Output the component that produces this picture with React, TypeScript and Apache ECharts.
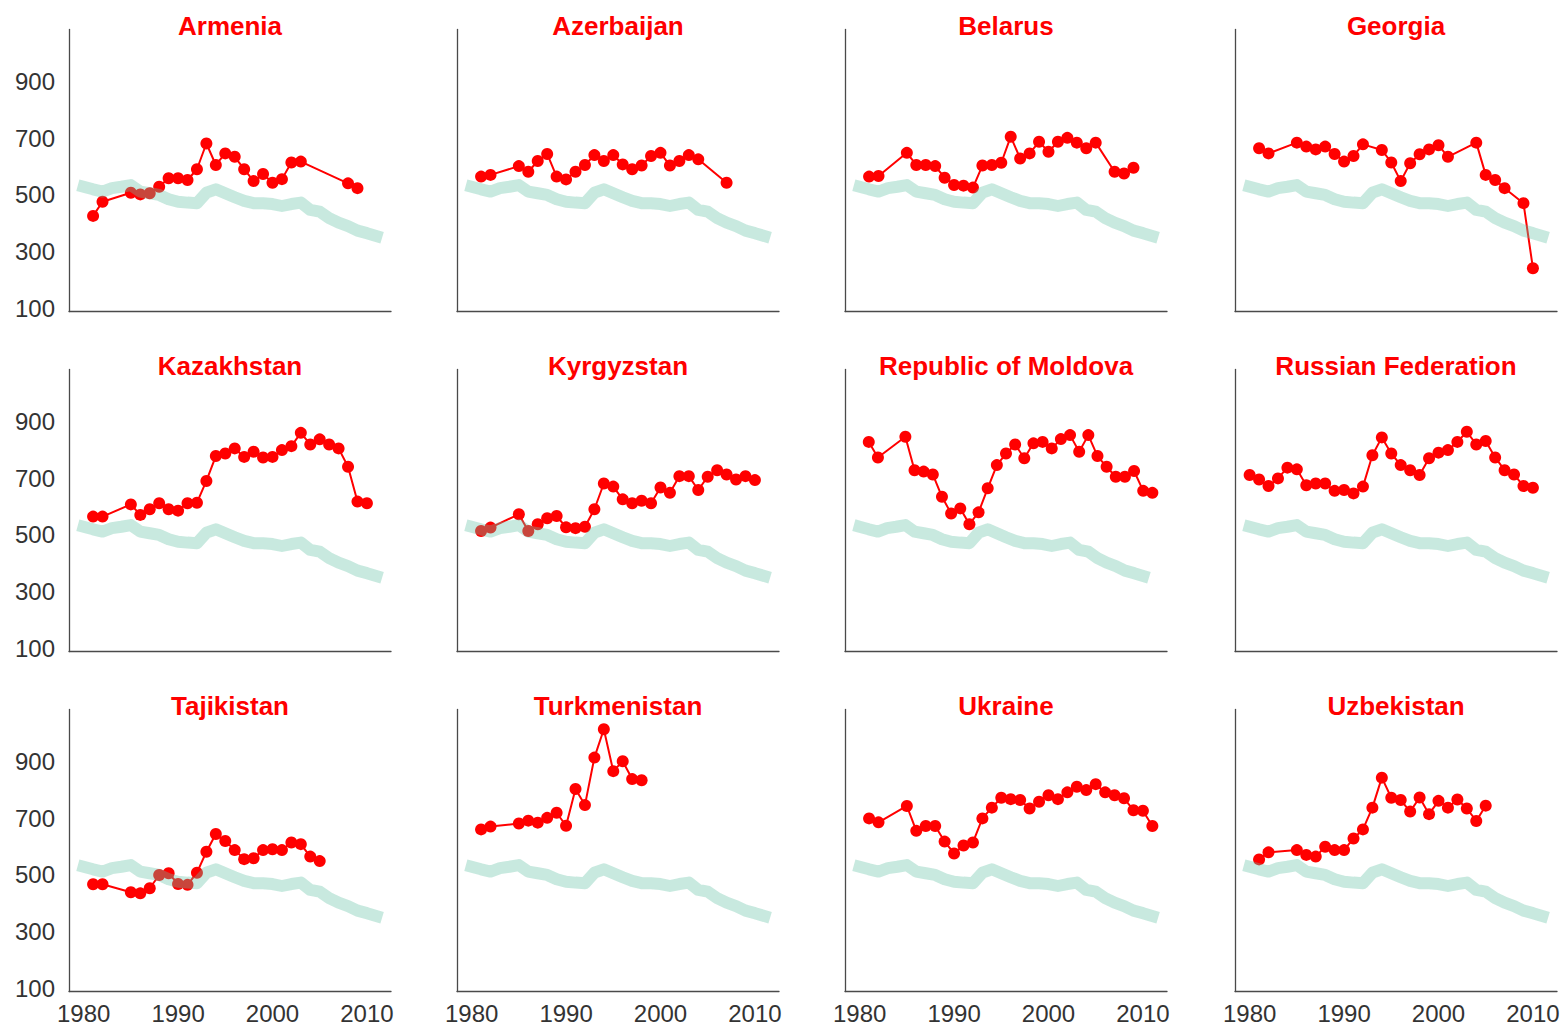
import React, { useEffect, useRef } from "react";
import * as echarts from "echarts";

const COUNTRIES = [
  "Armenia", "Azerbaijan", "Belarus", "Georgia",
  "Kazakhstan", "Kyrgyzstan", "Republic of Moldova", "Russian Federation",
  "Tajikistan", "Turkmenistan", "Ukraine", "Uzbekistan",
];

const GREEN_YEARS = [1980, 1981, 1982, 1983, 1984, 1985, 1986, 1987, 1988, 1989, 1990, 1991, 1992, 1993, 1994, 1995, 1996, 1997, 1998, 1999, 2000, 2001, 2002, 2003, 2004, 2005, 2006, 2007, 2008, 2009, 2010, 2011];
const GREEN_VALUES = [529, 520, 512, 524, 529, 535, 512, 506, 500, 485, 476, 473, 471, 508, 520, 506, 492, 479, 471, 471, 468, 461, 468, 473, 447, 441, 418, 402, 390, 374, 365, 355];

const ARMENIA_YEARS = [1981, 1982, 1985, 1986, 1987, 1988, 1989, 1990, 1991, 1992, 1993, 1994, 1995, 1996, 1997, 1998, 1999, 2000, 2001, 2002, 2003, 2008, 2009];
const ARMENIA = [426, 476, 508, 502, 506, 529, 559, 559, 553, 591, 682, 606, 647, 635, 591, 549, 574, 543, 556, 615, 618, 541, 524];

const AZERBAIJAN_YEARS = [1981, 1982, 1985, 1986, 1987, 1988, 1989, 1990, 1991, 1992, 1993, 1994, 1995, 1996, 1997, 1998, 1999, 2000, 2001, 2002, 2003, 2004, 2007];
const AZERBAIJAN = [565, 571, 602, 582, 620, 645, 565, 555, 582, 606, 641, 620, 641, 608, 591, 604, 638, 649, 604, 620, 641, 626, 543];

const BELARUS_YEARS = [1981, 1982, 1985, 1986, 1987, 1988, 1989, 1990, 1991, 1992, 1993, 1994, 1995, 1996, 1997, 1998, 1999, 2000, 2001, 2002, 2003, 2004, 2005, 2007, 2008, 2009];
const BELARUS = [565, 567, 649, 606, 606, 602, 561, 535, 533, 526, 604, 606, 614, 706, 629, 647, 688, 653, 688, 702, 685, 665, 685, 582, 576, 596];

const GEORGIA_YEARS = [1981, 1982, 1985, 1986, 1987, 1988, 1989, 1990, 1991, 1992, 1994, 1995, 1996, 1997, 1998, 1999, 2000, 2001, 2004, 2005, 2006, 2007, 2009, 2010];
const GEORGIA = [665, 647, 685, 671, 661, 671, 645, 618, 638, 679, 659, 615, 549, 612, 644, 661, 676, 635, 685, 571, 553, 524, 471, 241];

const KAZAKHSTAN_YEARS = [1981, 1982, 1985, 1986, 1987, 1988, 1989, 1990, 1991, 1992, 1993, 1994, 1995, 1996, 1997, 1998, 1999, 2000, 2001, 2002, 2003, 2004, 2005, 2006, 2007, 2008, 2009, 2010];
const KAZAKHSTAN = [565, 565, 608, 571, 591, 612, 591, 586, 612, 614, 691, 779, 788, 806, 776, 794, 774, 776, 800, 814, 861, 820, 838, 820, 806, 741, 618, 612];

const KYRGYZSTAN_YEARS = [1981, 1982, 1985, 1986, 1987, 1988, 1989, 1990, 1991, 1992, 1993, 1994, 1995, 1996, 1997, 1998, 1999, 2000, 2001, 2002, 2003, 2004, 2005, 2006, 2007, 2008, 2009, 2010];
const KYRGYZSTAN = [514, 526, 573, 514, 538, 559, 567, 527, 524, 529, 591, 682, 671, 626, 612, 621, 612, 668, 649, 708, 708, 659, 706, 729, 714, 696, 708, 694];

const MOLDOVA_YEARS = [1981, 1982, 1985, 1986, 1987, 1988, 1989, 1990, 1991, 1992, 1993, 1994, 1995, 1996, 1997, 1998, 1999, 2000, 2001, 2002, 2003, 2004, 2005, 2006, 2007, 2008, 2009, 2010, 2011, 2012];
const MOLDOVA = [829, 774, 847, 729, 724, 714, 635, 576, 594, 538, 580, 665, 747, 788, 820, 771, 824, 829, 806, 839, 853, 794, 853, 779, 741, 706, 706, 726, 656, 649];

const RUSSIA_YEARS = [1980, 1981, 1982, 1983, 1984, 1985, 1986, 1987, 1988, 1989, 1990, 1991, 1992, 1993, 1994, 1995, 1996, 1997, 1998, 1999, 2000, 2001, 2002, 2003, 2004, 2005, 2006, 2007, 2008, 2009, 2010];
const RUSSIA = [712, 696, 673, 700, 738, 732, 676, 682, 682, 656, 659, 647, 671, 782, 845, 788, 747, 729, 712, 771, 791, 800, 829, 865, 820, 832, 774, 729, 714, 673, 667];

const TAJIKISTAN_YEARS = [1981, 1982, 1985, 1986, 1987, 1988, 1989, 1990, 1991, 1992, 1993, 1994, 1995, 1996, 1997, 1998, 1999, 2000, 2001, 2002, 2003, 2004, 2005];
const TAJIKISTAN = [467, 467, 439, 435, 453, 500, 506, 468, 465, 508, 582, 645, 620, 588, 556, 559, 588, 591, 588, 615, 609, 565, 549];

const TURKMENISTAN_YEARS = [1981, 1982, 1985, 1986, 1987, 1988, 1989, 1990, 1991, 1992, 1993, 1994, 1995, 1996, 1997, 1998];
const TURKMENISTAN = [661, 671, 682, 692, 685, 702, 720, 674, 804, 747, 915, 1015, 867, 902, 839, 835];

const UKRAINE_YEARS = [1981, 1982, 1985, 1986, 1987, 1988, 1989, 1990, 1991, 1992, 1993, 1994, 1995, 1996, 1997, 1998, 1999, 2000, 2001, 2002, 2003, 2004, 2005, 2006, 2007, 2008, 2009, 2010, 2011];
const UKRAINE = [700, 686, 744, 656, 673, 673, 618, 576, 604, 615, 700, 738, 773, 768, 765, 735, 759, 782, 768, 792, 812, 800, 821, 792, 782, 771, 729, 727, 673];

const UZBEKISTAN_YEARS = [1981, 1982, 1985, 1986, 1987, 1988, 1989, 1990, 1991, 1992, 1993, 1994, 1995, 1996, 1997, 1998, 1999, 2000, 2001, 2002, 2003, 2004, 2005];
const UZBEKISTAN = [555, 580, 588, 571, 565, 600, 588, 588, 629, 661, 738, 844, 773, 765, 724, 774, 715, 762, 738, 767, 735, 691, 745];

const RED_YEARS = [ARMENIA_YEARS, AZERBAIJAN_YEARS, BELARUS_YEARS, GEORGIA_YEARS, KAZAKHSTAN_YEARS, KYRGYZSTAN_YEARS, MOLDOVA_YEARS, RUSSIA_YEARS, TAJIKISTAN_YEARS, TURKMENISTAN_YEARS, UKRAINE_YEARS, UZBEKISTAN_YEARS];
const RED_VALUES = [ARMENIA, AZERBAIJAN, BELARUS, GEORGIA, KAZAKHSTAN, KYRGYZSTAN, MOLDOVA, RUSSIA, TAJIKISTAN, TURKMENISTAN, UKRAINE, UZBEKISTAN];

const X_TICKS = [1980, 1990, 2000, 2010];
const Y_TICKS = [100, 300, 500, 700, 900];

const FONT = "'Liberation Sans', Arial, Helvetica, sans-serif";

export default function App() {
  const ref = useRef<HTMLDivElement>(null);

  useEffect(() => {
    if (!ref.current) return;
    const chart = echarts.init(ref.current, null, { renderer: "svg" });

    const colLeft = [69, 457, 845, 1235];
    const rowTop = [29.5, 369.5, 709.5];
    const W = 322;
    const H = 282;

    const grids: any[] = [];
    const xAxes: any[] = [];
    const yAxes: any[] = [];
    const series: any[] = [];
    const graphics: any[] = [];

    COUNTRIES.forEach((name, i) => {
      const col = i % 4;
      const row = Math.floor(i / 4);
      grids.push({ left: colLeft[col], top: rowTop[row], width: W, height: H, containLabel: false });
      const isMoldova = name === "Republic of Moldova";
      xAxes.push({
        type: "value",
        gridIndex: i,
        min: isMoldova ? 1978.4 : 1978.45,
        max: isMoldova ? 2013.6 : 2012.55,
        splitLine: { show: false },
        axisTick: { show: false },
        axisLine: { show: true, onZero: false, lineStyle: { color: "#4a4a4a", width: 1.3 } },
        axisLabel: {
          show: row === 2,
          customValues: X_TICKS,
          margin: 10,
          fontSize: 24,
          fontFamily: FONT,
          color: "#333",
          formatter: (v: number) => String(v),
        },
      });
      yAxes.push({
        type: "value",
        gridIndex: i,
        min: 88,
        max: 1085,
        splitLine: { show: false },
        axisTick: { show: false },
        axisLine: { show: true, onZero: false, lineStyle: { color: "#4a4a4a", width: 1.3 } },
        axisLabel: {
          show: col === 0,
          customValues: Y_TICKS,
          margin: 14,
          fontSize: 24,
          fontFamily: FONT,
          color: "#333",
        },
      });
      series.push({
        type: "line",
        name: name,
        xAxisIndex: i,
        yAxisIndex: i,
        data: RED_YEARS[i].map((y, k) => [y, RED_VALUES[i][k]]),
        symbol: "circle",
        symbolSize: 12,
        showSymbol: true,
        itemStyle: { color: "#ff0000" },
        lineStyle: { color: "#ff0000", width: 2 },
        z: 2,
        silent: true,
      });
      series.push({
        type: "line",
        name: "average",
        xAxisIndex: i,
        yAxisIndex: i,
        data: GREEN_YEARS.map((y, k) => [y, GREEN_VALUES[k]]),
        showSymbol: false,
        symbol: "none",
        lineStyle: { color: "rgba(102,194,165,0.36)", width: 12, join: "round", cap: "square" },
        z: 3,
        silent: true,
      });
      graphics.push({
        type: "text",
        x: colLeft[col] + W / 2,
        y: 26 + row * 340,
        style: {
          text: name,
          align: "center",
          verticalAlign: "middle",
          fill: "#ff0000",
          font: `bold 26px ${FONT}`,
        },
      });
    });

    chart.setOption({
      animation: false,
      backgroundColor: "#ffffff",
      grid: grids,
      xAxis: xAxes,
      yAxis: yAxes,
      series,
      graphic: graphics,
    });

    return () => chart.dispose();
  }, []);

  return (
    <div
      ref={ref}
      style={{ position: "absolute", left: 0, top: 0, width: 1563, height: 1028, background: "#fff" }}
    />
  );
}
